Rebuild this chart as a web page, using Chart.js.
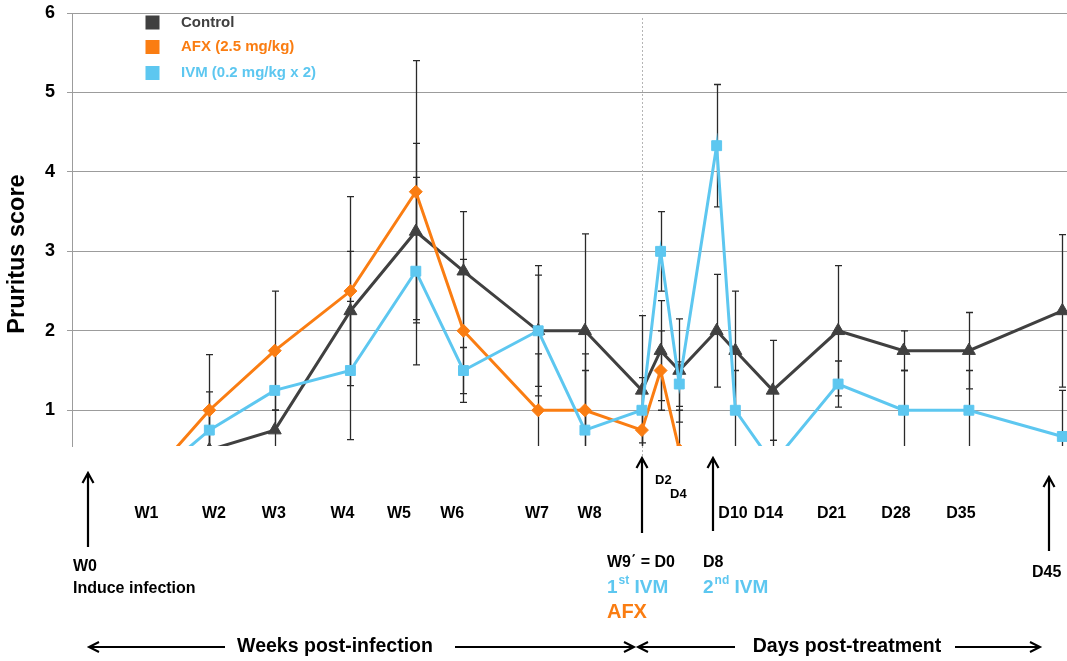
<!DOCTYPE html>
<html>
<head>
<meta charset="utf-8">
<script src="https://cdn.jsdelivr.net/npm/chart.js@4.4.1/dist/chart.umd.min.js"></script>
<style>
html,body{margin:0;padding:0;background:#fff;}
#wrap{width:1067px;height:661px;position:relative;}
</style>
</head>
<body>
<div id="wrap"><canvas id="c"></canvas></div>
<script>
// ---- data ----
const timePoints = ['W1','W2','W3','W4','W5','W6','W7','W8','D0','D2','D4','D8','D10','D14','D21','D28','D35','D45'];
const timeX      = [9.2, 16.7, 23.7, 31.8, 38.8, 43.9, 51.9, 56.9, 63, 65, 67, 71, 73, 77, 84, 91, 98, 108];

const controlMean = [0, 0.5, 0.75, 2.25, 3.25, 2.75, 2.0, 2.0, 1.25, 1.75, 1.5, 2.0, 1.75, 1.25, 2.0, 1.75, 1.75, 2.25];
const controlErr  = [0, 0.5, 0.25, 0.75, 1.11, 0.75, 0.82, 1.22, 0.94, 0.63, 0.65, 0.71, 0.75, 0.63, 0.82, 0.25, 0.48, 0.96];

const afxMean = [0, 1.0, 1.75, 2.5, 3.75, 2.0, 1.0, 1.0, 0.75, 1.5, 0.5, null, null, null, null, null, null, null];
const afxErr  = [0, 0.7, 0.75, 1.19, 1.65, 0.9, 0.71, 0.71, 0.5, 0.5, 0.5, null, null, null, null, null, null, null];

const ivmMean = [0, 0.75, 1.25, 1.5, 2.75, 1.5, 2.0, 0.75, 1.0, 3.0, 1.33, 4.33, 1.0, 0.33, 1.33, 1.0, 1.0, 0.67];
const ivmErr  = [0, 0.48, 0.5, 0.87, 1.18, 0.29, 0.7, 0.75, 0.41, 0.5, 0.28, 0.77, 0.5, 0.29, 0.29, 0.5, 0.5, 0.58];

const yTicks = [1, 2, 3, 4, 5, 6];
const yTitle = 'Pruritus score';

const weekLabels = ['W1','W2','W3','W4','W5','W6','W7','W8'];
const weekLabelX = [9.97, 17.2, 23.6, 30.95, 37.0, 42.7, 51.77, 57.4];
const dayLabels  = ['D10','D14','D21','D28','D35'];
const dayLabelX  = [72.75, 76.55, 83.3, 90.2, 97.15];
const smallDayLabels = ['D2','D4'];
const smallDayLabelX = [65.3, 66.9];

// ---- styles ----
const FONT = '"Liberation Sans", Arial, Helvetica, sans-serif';
const C_CONTROL = '#404040';
const C_AFX = '#FA7D12';
const C_IVM = '#5DC7F0';
const C_ERR = '#2a2a2a';
const C_GRID = '#9c9c9c';

function pts(means){ return timeX.map((x,i)=>({x:x, y:means[i]})).filter(p=>p.y!==null); }

const errorBarPlugin = {
  id:'errorBars',
  beforeDatasetsDraw(chart){
    const {ctx, chartArea:a, scales:{x,y}} = chart;
    ctx.save();
    // D0 dotted separator
    const xd = Math.round(x.getPixelForValue(63)) + 0.5;
    ctx.strokeStyle = '#b5b5b5'; ctx.lineWidth = 1; ctx.setLineDash([2,2]);
    ctx.beginPath(); ctx.moveTo(xd, 18); ctx.lineTo(xd, 458); ctx.stroke();
    ctx.setLineDash([]);
    ctx.beginPath(); ctx.rect(a.left, a.top, a.right-a.left, a.bottom-a.top); ctx.clip();
    ctx.strokeStyle = C_ERR; ctx.lineWidth = 1.3;
    chart.data.datasets.forEach(ds=>{
      const errs = ds.errorBars;
      ds.data.forEach((p,i)=>{
        const e = errs[timeX.indexOf(p.x)];
        if (p.y===null || !e) return;
        const px = Math.round(x.getPixelForValue(p.x)) + 0.5;
        const t = y.getPixelForValue(p.y+e), b = y.getPixelForValue(p.y-e);
        ctx.beginPath();
        ctx.moveTo(px,t); ctx.lineTo(px,b);
        ctx.moveTo(px-3.5,t); ctx.lineTo(px+3.5,t);
        ctx.moveTo(px-3.5,b); ctx.lineTo(px+3.5,b);
        ctx.stroke();
      });
    });
    ctx.restore();
  }
};

function vArrow(ctx, x, yTip, yTail){
  ctx.beginPath();
  ctx.moveTo(x, yTail); ctx.lineTo(x, yTip);
  ctx.moveTo(x-5.5, yTip+10); ctx.lineTo(x, yTip); ctx.lineTo(x+5.5, yTip+10);
  ctx.stroke();
}
function hArrow(ctx, xFrom, xHead, y){
  const d = xHead > xFrom ? -1 : 1;
  ctx.beginPath();
  ctx.moveTo(xFrom, y); ctx.lineTo(xHead, y);
  ctx.moveTo(xHead + d*10, y-5); ctx.lineTo(xHead, y); ctx.lineTo(xHead + d*10, y+5);
  ctx.stroke();
}
function supText(ctx, x, y, base, sup, rest, color){
  ctx.fillStyle = color;
  ctx.font = 'bold 19px ' + FONT;
  ctx.fillText(base, x, y);
  let w = ctx.measureText(base).width;
  ctx.font = 'bold 12px ' + FONT;
  ctx.fillText(sup, x + w + 1, y - 7);
  w += ctx.measureText(sup).width + 1;
  ctx.font = 'bold 19px ' + FONT;
  ctx.fillText(rest, x + w, y);
}

const annotationPlugin = {
  id:'annotations',
  afterDraw(chart){
    const {ctx, scales:{x}} = chart;
    const X = v => x.getPixelForValue(v);
    ctx.save();
    // y-axis title
    ctx.save();
    ctx.translate(18, 254); ctx.rotate(-Math.PI/2);
    ctx.font = 'bold 23.5px ' + FONT; ctx.fillStyle = '#000';
    ctx.textAlign = 'center'; ctx.textBaseline = 'middle';
    ctx.fillText(yTitle, 0, 0);
    ctx.restore();

    // legend
    const legendRows = [22.5, 47, 73];
    chart.data.datasets.forEach((ds,i)=>{
      ctx.fillStyle = ds.borderColor;
      ctx.fillRect(145.5, legendRows[i]-7, 14, 14);
      ctx.font = 'bold 15px ' + FONT;
      ctx.textBaseline = 'middle'; ctx.textAlign = 'left';
      ctx.fillText(ds.label, 181, legendRows[i]);
    });

    ctx.textBaseline = 'middle';
    ctx.fillStyle = '#000';
    ctx.textAlign = 'center';
    ctx.font = 'bold 16px ' + FONT;
    weekLabels.forEach((t,i)=> ctx.fillText(t, X(weekLabelX[i]), 514));
    dayLabels.forEach((t,i)=> ctx.fillText(t, X(dayLabelX[i]), 514));
    ctx.font = 'bold 13px ' + FONT;
    ctx.fillText(smallDayLabels[0], X(smallDayLabelX[0]), 480);
    ctx.fillText(smallDayLabels[1], X(smallDayLabelX[1]), 494);

    // arrows
    ctx.strokeStyle = '#000'; ctx.lineWidth = 2.2;
    vArrow(ctx, Math.round(X(3.7)), 473, 547);
    vArrow(ctx, Math.round(X(63.05)), 458, 533);
    vArrow(ctx, Math.round(X(70.66)), 458, 531);
    vArrow(ctx, Math.round(X(106.57)), 477, 551);

    ctx.textAlign = 'left';
    ctx.font = 'bold 16px ' + FONT;
    ctx.fillStyle = '#000';
    ctx.fillText('W0', X(2.1), 567);
    ctx.fillText('Induce infection', X(2.1), 589);
    ctx.fillText('W9\u0384 = D0', X(59.26), 563);
    ctx.fillText('D8', X(69.54), 563);
    ctx.fillText('D45', X(104.75), 573);
    supText(ctx, X(59.26), 588, '1', 'st', ' IVM', C_IVM);
    supText(ctx, X(69.54), 588, '2', 'nd', ' IVM', C_IVM);
    ctx.font = 'bold 20px ' + FONT;
    ctx.fillStyle = C_AFX;
    ctx.fillText('AFX', X(59.26), 612);

    // bottom period arrows
    ctx.fillStyle = '#000';
    ctx.textAlign = 'center';
    ctx.font = 'bold 19.5px ' + FONT;
    ctx.fillText('Weeks post-infection', 335, 647);
    ctx.fillText('Days post-treatment', 847, 647);
    ctx.lineWidth = 2;
    hArrow(ctx, 225, 89, 647);
    hArrow(ctx, 455, 634, 647);
    hArrow(ctx, 735, 638, 647);
    hArrow(ctx, 955, 1040, 647);
    ctx.restore();
  }
};

const common = { borderWidth:3, tension:0, clip:0, pointBorderWidth:1, pointHoverRadius:7 };

new Chart(document.getElementById('c'), {
  type:'line',
  data:{
    datasets:[
      Object.assign({label:'Control', data:pts(controlMean), errorBars:controlErr,
        borderColor:C_CONTROL, backgroundColor:C_CONTROL, pointBackgroundColor:C_CONTROL, pointBorderColor:C_CONTROL,
        pointStyle:'triangle', pointRadius:7.5, order:2}, common),
      Object.assign({label:'AFX (2.5 mg/kg)', data:pts(afxMean), errorBars:afxErr,
        borderColor:C_AFX, backgroundColor:C_AFX, pointBackgroundColor:C_AFX, pointBorderColor:C_AFX,
        pointStyle:'rectRot', pointRadius:6.5, order:1}, common),
      Object.assign({label:'IVM (0.2 mg/kg x 2)', data:pts(ivmMean), errorBars:ivmErr,
        borderColor:C_IVM, backgroundColor:C_IVM, pointBackgroundColor:C_IVM, pointBorderColor:C_IVM,
        pointStyle:'rect', pointRadius:7, order:0}, common)
    ]
  },
  options:{
    responsive:true, maintainAspectRatio:false, animation:false,
    layout:{autoPadding:false, padding:{top:13, right:0, bottom:215, left:0}},
    plugins:{legend:{display:false}, tooltip:{enabled:false}},
    scales:{
      x:{type:'linear', min:2, max:108.5, display:false},
      y:{
        min:0.55, max:6,
        afterBuildTicks: s => { s.ticks = yTicks.map(v=>({value:v})); },
        afterFit: s => { s.width = 72; s.paddingTop = 0; s.paddingBottom = 0; },
        grid:{color:C_GRID, lineWidth:1, tickLength:5, drawTicks:true},
        border:{color:C_GRID, width:1},
        ticks:{color:'#000', padding:12, font:{family:FONT, size:18, weight:'bold'}},
        title:{display:false}
      }
    }
  },
  plugins:[errorBarPlugin, annotationPlugin]
});
</script>
</body>
</html>
